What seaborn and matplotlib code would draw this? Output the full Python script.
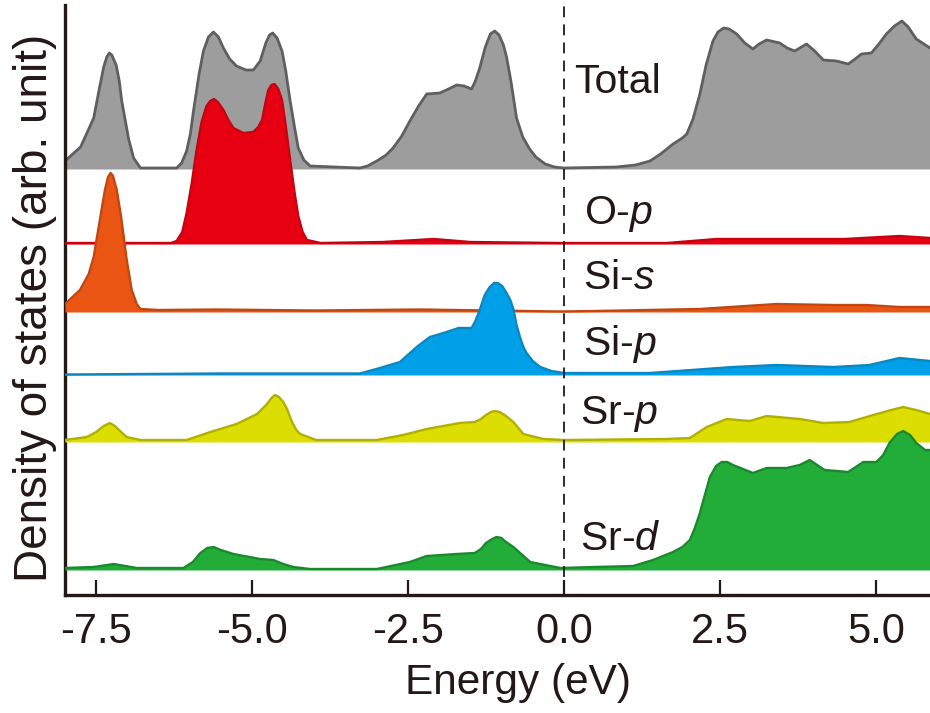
import numpy as np
import pandas as pd
import matplotlib
matplotlib.use("Agg")
import matplotlib.pyplot as plt
import seaborn as sns

# ---------------- data (arbitrary units) ----------------
total_e = [-8.0, -7.75, -7.54, -7.45, -7.38, -7.33, -7.29, -7.25, -7.18, -7.13, -7.09, -6.98, -6.9, -6.79,
           -6.21, -6.13, -6.05, -5.99, -5.94, -5.85, -5.78, -5.70, -5.62, -5.54, -5.46, -5.36, -5.25,
           -5.1, -4.98, -4.87, -4.78, -4.72, -4.67, -4.6, -4.52, -4.46, -4.39, -4.32, -4.26, -4.17, -4.07,
           -3.27, -3.15, -3.0, -2.85, -2.74, -2.6, -2.47, -2.33, -2.2, -1.99, -1.85, -1.72, -1.6, -1.48,
           -1.42, -1.35, -1.26, -1.18, -1.11, -1.04, -0.97, -0.92, -0.85, -0.76, -0.66, -0.55, -0.45,
           -0.3, -0.15, 0.0, 0.84, 1.15, 1.38, 1.55, 1.75, 1.9, 1.97, 2.07, 2.18, 2.28, 2.39, 2.47, 2.56,
           2.65, 2.77, 2.9, 3.03, 3.13, 3.25, 3.46, 3.58, 3.7, 3.89, 4.02, 4.16, 4.37, 4.56, 4.67, 4.77,
           4.93, 5.05, 5.17, 5.3, 5.42, 5.52, 5.65, 5.87]
total_dos = [8, 22, 51, 80, 102, 112, 116, 114, 104, 88, 68, 30, 11, 1,
             1, 6, 18, 35, 58, 95, 118, 132, 137, 132, 121, 110, 103,
             99, 99, 108, 126, 134, 136, 131, 118, 98, 68, 42, 21, 9, 3,
             1, 3, 8, 14, 21, 33, 48, 63, 75, 76, 80, 84, 83, 80,
             88, 101, 122, 135, 138, 134, 124, 112, 88, 51, 32, 20, 12,
             5, 2, 1, 2, 4, 8, 15, 25, 31, 35, 50, 75, 104, 128, 137, 141,
             140, 135, 126, 120, 125, 129, 126, 121, 118, 125, 118, 109, 108, 105, 110, 115,
             116, 125, 135, 143, 148, 142, 130, 121]

op_e = [-8.0, -6.3, -6.21, -6.12, -6.05, -5.97, -5.89, -5.81, -5.73, -5.67, -5.61, -5.55, -5.46, -5.38,
        -5.3, -5.14, -4.98, -4.9, -4.84, -4.79, -4.74, -4.69, -4.64, -4.58, -4.52, -4.46, -4.39, -4.32,
        -4.26, -4.19, -4.12, -3.9, -2.9, -2.09, -1.5, -0.06, 1.65, 2.45, 3.78, 4.5, 5.38, 5.87]
op_dos = [1, 1, 3, 12, 31, 60, 94, 122, 138, 143, 145, 142, 134, 124,
          116, 111, 112, 117, 124, 140, 154, 159, 160, 155, 144, 118, 84, 52,
          28, 12, 4, 1, 2, 5, 2, 1, 1, 5, 5, 5, 8, 6]

sis_e = [-8.0, -7.76, -7.62, -7.54, -7.42, -7.36, -7.31, -7.27, -7.23, -7.17, -7.1, -7.01, -6.93, -6.85,
         -6.79, -6.5, -5.57, -4.0, -2.31, -0.06, 0.5, 2.18, 3.41, 4.32, 4.85, 5.38, 5.87]
sis_dos = [8, 22, 38, 55, 100, 122, 135, 139, 136, 122, 95, 52, 22, 8,
           3, 2, 2.5, 1.5, 2.5, 0.5, 1, 3, 8, 7, 7, 5, 5]

sip_e = [-8.0, -5.5, -3.27, -2.95, -2.63, -2.36, -2.15, -1.93, -1.69, -1.48, -1.42, -1.35, -1.27, -1.19,
         -1.12, -1.06, -0.99, -0.92, -0.86, -0.81, -0.76, -0.7, -0.65, -0.6, -0.5, -0.38, -0.2, 0.0,
         1.38, 2.71, 3.41, 4.32, 4.9, 5.38, 5.87]
sip_dos = [0.5, 1.5, 1.5, 7, 13, 28, 38, 42, 47, 47, 54, 65, 80, 88,
           92, 92, 89, 82, 75, 66, 50, 37, 28, 22, 14, 8, 4, 2,
           2, 8, 10, 8, 10, 17, 14]

srp_e = [-8.0, -7.65, -7.5, -7.38, -7.28, -7.2, -7.1, -7.01, -6.79, -6.05, -5.67, -5.25, -4.92, -4.76,
         -4.69, -4.63, -4.57, -4.5, -4.44, -4.36, -4.29, -4.23, -3.97, -3.0, -2.58, -2.2, -1.67, -1.43,
         -1.33, -1.25, -1.17, -1.11, -1.03, -0.95, -0.81, -0.65, -0.33, 0.0, 1.65, 2.02, 2.29, 2.61,
         2.98, 3.25, 3.78, 4.16, 4.58, 4.96, 5.25, 5.44, 5.65, 5.87]
srp_dos = [2, 5, 10, 16, 19, 16, 10, 5, 2, 2, 10, 18, 28, 38,
           44, 47, 45, 40, 33, 20, 12, 8, 2, 2, 7, 13, 19, 20,
           23, 27, 30, 31, 30, 27, 20, 8, 3, 2, 3, 4, 15, 23,
           21, 26, 23, 19, 20, 27, 32, 35, 32, 28]

srd_e = [-8.0, -7.54, -7.22, -6.85, -6.1, -5.95, -5.83, -5.72, -5.62, -5.5, -5.3, -4.87, -4.66, -4.5,
         -4.34, -4.07, -3.0, -2.47, -2.2, -1.72, -1.43, -1.33, -1.25, -1.15, -1.08, -1.0, -0.95, -0.81,
         -0.54, -0.06, 0.5, 1.11, 1.43, 1.75, 1.9, 2.02, 2.1, 2.18, 2.34, 2.44, 2.53, 2.62, 2.71,
         3.03, 3.25, 3.57, 3.78, 3.94, 4.18, 4.56, 4.8, 5.01, 5.12, 5.22, 5.34, 5.44, 5.55, 5.65,
         5.79, 5.87]
srd_dos = [2, 3, 6, 2, 2, 8, 17, 22, 23, 20, 16, 11, 10, 6,
           3, 1, 1, 8, 14, 16, 17, 21, 27, 31, 33, 32, 29, 23,
           8, 2, 3, 4, 10, 18, 23, 30, 42, 57, 93, 104, 108, 108, 105,
           97, 102, 102, 105, 110, 100, 98, 108, 108, 115, 127, 136, 139, 135, 127,
           120, 120]

labels = ["Total", "O-$\\it{p}$", "Si-$\\it{s}$", "Si-$\\it{p}$", "Sr-$\\it{p}$", "Sr-$\\it{d}$"]
x_ticks = [-7.5, -5.0, -2.5, 0.0, 2.5, 5.0]
tick_labels = ["-7.5", "-5.0", "-2.5", "0.0", "2.5", "5.0"]

# ---------------- styling (positions / colours) ----------------
offsets = [426, 351, 283, 220, 153, 25]
fill_colors = ["#9d9d9d", "#e60012", "#ea5514", "#00a0e9", "#dcdd00", "#22ac38"]
line_colors = ["#5f5f5f", "#c8000f", "#c24610", "#0a86c0", "#b1b000", "#188a2c"]
label_pos = [(0.17, 513), (0.33, 381), (0.30, 317), (0.30, 251), (0.25, 181), (0.25, 56)]
text_color = "#231815"

series = [(total_e, total_dos), (op_e, op_dos), (sis_e, sis_dos),
          (sip_e, sip_dos), (srp_e, srp_dos), (srd_e, srd_dos)]

sns.set_theme(style="white")
plt.rcParams["font.family"] = ["Liberation Sans", "DejaVu Sans"]
plt.rcParams["mathtext.fontset"] = "custom"
plt.rcParams["mathtext.it"] = "Liberation Sans:italic"
plt.rcParams["mathtext.rm"] = "Liberation Sans"
plt.rcParams["axes.unicode_minus"] = False

fig = plt.figure(figsize=(9.3, 7.13), dpi=100)
ax = fig.add_axes([65 / 930, 118 / 713, 865 / 930, 590 / 713])

for i, ((e, d), off) in enumerate(zip(series, offsets)):
    df = pd.DataFrame({"E": e, "y": np.asarray(d, float) + off})
    z = 2 + i
    ax.fill_between(df["E"], off, df["y"], color=fill_colors[i], linewidth=0, zorder=z)
    line = sns.lineplot(data=df, x="E", y="y", ax=ax, color=line_colors[i],
                        linewidth=2.0 if i == 0 else 1.7, zorder=z + 0.5, sort=False)
for l in ax.get_lines():
    l.set_solid_joinstyle("round")

for i, lab in enumerate(labels):
    ax.text(label_pos[i][0], label_pos[i][1], lab, fontsize=29.5, color=text_color,
            ha="left", va="center", zorder=20)

ax.axvline(0.0, color=text_color, linestyle=(0, (6, 4)), linewidth=1.3, zorder=15)

ax.set_xlim(-8.0, 5.87)
ax.set_ylim(0, 590)
ax.set_xticks(x_ticks)
ax.set_xticklabels(tick_labels)
ax.set_yticks([])
ax.tick_params(axis="x", direction="in", length=11, width=1.6, color=text_color,
               labelsize=30, labelcolor=text_color, pad=12, bottom=True)
for s in ["top", "right"]:
    ax.spines[s].set_visible(False)
for s in ["left", "bottom"]:
    ax.spines[s].set_linewidth(2.4)
    ax.spines[s].set_color(text_color)

ax.set_xlabel("Energy (eV)", fontsize=30.5, color=text_color)
ax.set_ylabel("Density of states (arb. unit)", fontsize=33, color=text_color)
ax.xaxis.label.set_verticalalignment("center")
ax.yaxis.label.set_verticalalignment("center")
ax.xaxis.set_label_coords((518 - 65) / 865, (595 - 683) / 590)
ax.yaxis.set_label_coords((35 - 65) / 865, (595 - 308) / 590)

fig.savefig("out.png", dpi=100)
